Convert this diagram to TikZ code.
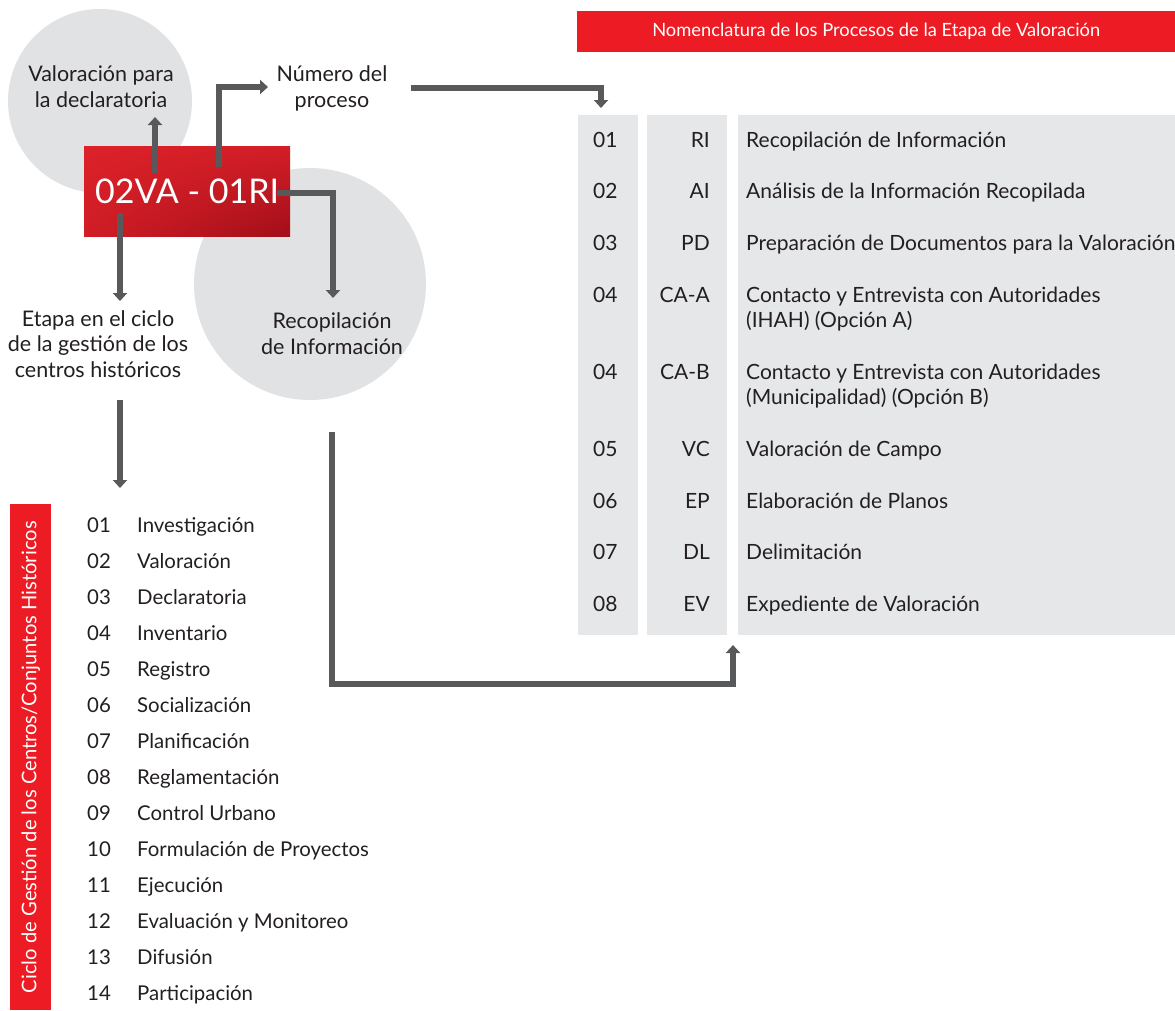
\documentclass[tikz,border=0pt]{standalone}
\usepackage{fontspec}
\setmainfont{Lato}
\usetikzlibrary{arrows.meta,shadings}
\definecolor{rojo}{HTML}{ED1C24}
\definecolor{rojoA}{HTML}{DC2129}
\definecolor{rojoB}{HTML}{A20E19}
\definecolor{gris}{HTML}{E6E7E8}
\definecolor{circulo}{HTML}{E1E2E3}
\definecolor{flecha}{HTML}{58595B}
\definecolor{texto}{HTML}{231F20}
\begin{document}
\begin{tikzpicture}[x=1pt,y=-1pt,
  conn/.style={draw=flecha,line width=5.5pt,-{Triangle[width=14pt,length=8pt]}},
  lbl/.style={text=texto,font=\fontsize{21.5}{25.5}\selectfont,inner sep=0pt,align=center,anchor=base},
  item/.style={text=texto,font=\fontsize{20.4}{25}\selectfont,inner sep=0pt,anchor=base west},
  titem/.style={text=texto,font=\fontsize{21}{25}\selectfont,inner sep=0pt,anchor=base west},
  code/.style={text=texto,font=\fontsize{21}{25}\selectfont,inner sep=0pt,anchor=base east},
  cell/.style={fill=gris,draw=none,inner sep=0pt,anchor=north west},
  bubble/.style={circle,fill=circulo,draw=none,inner sep=0pt}
]
\useasboundingbox (0,0) rectangle (1175,1010);
\fill[white] (0,0) rectangle (1175,1010);

% grey bubbles
\node[bubble,minimum size=184pt] (cVal) at (100,101) {};
\node[bubble,minimum size=232pt] (cRec) at (310,284) {};

% header banner
\node[fill=rojo,inner sep=0pt,minimum width=598pt,minimum height=41pt,anchor=north west,
      text=white,font=\fontsize{18.3}{20}\selectfont] (banner) at (577,11)
      {Nomenclatura de los Procesos de la Etapa de Valoración};

% table columns
\node[cell,minimum width=60pt,minimum height=520pt] (colNum) at (578,115) {};
\node[cell,minimum width=80pt,minimum height=520pt] (colCod) at (647,115) {};
\node[cell,minimum width=437pt,minimum height=520pt] (colDes) at (738,115) {};

% code box
\node[inner sep=0pt,minimum width=206pt,minimum height=90pt,anchor=north west,
      upper left=rojoA,upper right=rojoA!85!rojoB,lower left=rojoA!80!rojoB,lower right=rojoB,
      text=white,font=\fontsize{34}{40}\selectfont] (code) at (84,146) {02VA - 01RI};

% connector points
\coordinate (pUp) at (155,173);
\coordinate (pUpE) at (155,117);
\coordinate (pNum) at (219,167);
\coordinate (pNumK) at (219,87);
\coordinate (pNumE) at (268,87);
\coordinate (pRec) at (277,193);
\coordinate (pRecK) at (333,193);
\coordinate (pRecE) at (333,298);
\coordinate (pEta) at (120,213);
\coordinate (pEtaE) at (120,301);
\coordinate (pLst) at (120,400);
\coordinate (pLstE) at (120,488);
\coordinate (pTab) at (411,88);
\coordinate (pTabK) at (601,88);
\coordinate (pTabE) at (601,108);
\coordinate (pBot) at (332,432);
\coordinate (pBotK) at (332,684);
\coordinate (pBotK2) at (733,684);
\coordinate (pBotE) at (733,645);

% labels round the code (base = last line)
\node[lbl] (tVal) at (101,107) {Valoración para\\la declaratoria};
\node[lbl] (tNum) at (332,107) {Número del\\proceso};
\node[lbl] (tEta) at (98,377) {Etapa en el ciclo\\de la gestión de los\\centros históricos};
\node[lbl] (tRec) at (332,354) {Recopilación\\de Información};

% connectors
\draw[conn] (pUp) -- (pUpE);
\draw[conn] (pNum) -- (pNumK) -- (pNumE);
\draw[conn] (pRec) -- (pRecK) -- (pRecE);
\draw[conn] (pEta) -- (pEtaE);
\draw[conn] (pLst) -- (pLstE);
\draw[conn] (pTab) -- (pTabK) -- (pTabE);
\draw[conn] (pBot) -- (pBotK) -- (pBotK2) -- (pBotE);

% process table
\foreach \n/\c/\d/\y/\z [count=\i] in {
  01/RI/{Recopilación de Información}/147/147,
  02/AI/{Análisis de la Información Recopilada}/198/198,
  03/PD/{Preparación de Documentos para la Valoración}/250/250,
  04/CA-A/{Contacto y Entrevista con Autoridades\\(IHAH) (Opción A)}/302/327,
  04/CA-B/{Contacto y Entrevista con Autoridades\\(Municipalidad) (Opción B)}/379/404,
  05/VC/{Valoración de Campo}/456/456,
  06/EP/{Elaboración de Planos}/508/508,
  07/DL/{Delimitación}/559/559,
  08/EV/{Expediente de Valoración}/611/611}{
  \node[titem] (tn\i) at (593,\y) {\n};
  \node[code] (tc\i) at (710,\y) {\c};
  \node[titem,align=left] (td\i) at (746,\z) {\d};
}

% management cycle
\node[fill=rojo,inner sep=0pt,minimum width=41pt,minimum height=506pt,anchor=north west] (bar) at (10,504) {};
\node[rotate=90,text=white,inner sep=0pt,font=\fontsize{20.2}{22}\selectfont] (ciclo) at (bar.center)
  {Ciclo de Gestión de los Centros/Conjuntos Históricos};
\foreach \n/\d [count=\i from 0] in {
  01/Investigación, 02/Valoración, 03/Declaratoria, 04/Inventario, 05/Registro,
  06/Socialización, 07/Planificación, 08/Reglamentación, 09/Control Urbano,
  10/Formulación de Proyectos, 11/Ejecución, 12/Evaluación y Monitoreo,
  13/Difusión, 14/Participación}{
  \node[item] (ln\i) at (87,532+36*\i) {\n};
  \node[item] (ld\i) at (137,532+36*\i) {\d};
}
\end{tikzpicture}
\end{document}
